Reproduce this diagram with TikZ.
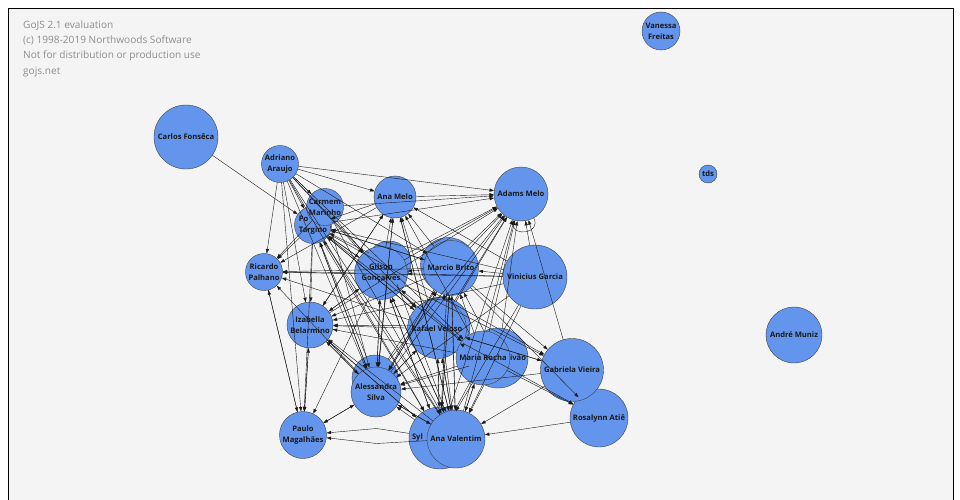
\documentclass[tikz,border=0pt]{standalone}
\usepackage{fontspec}
\setmainfont{Open Sans}
\usetikzlibrary{arrows.meta,calc}
\definecolor{canvas}{HTML}{F4F4F4}
\definecolor{nodeblue}{HTML}{6495ED}
\definecolor{markgray}{HTML}{8E8E8E}
\tikzset{
  person/.style={circle, draw=black!75, line width=0.4pt, fill=nodeblue,
    minimum size=#1pt, inner sep=-4pt, align=center,
    font=\bfseries\fontsize{7.6}{11}\selectfont, text=black!90},
  link/.style={draw=black!90, line width=0.4pt,
    -{Triangle[length=4.5pt,width=3.2pt]}},
}
\begin{document}
\begin{tikzpicture}[x=1pt,y=-1pt]
        \useasboundingbox (0,0) rectangle (960,500);
        \clip (0,0) rectangle (960,500);
        % Canvas and frame
        \fill[white] (0,0) rectangle (960,500);
        \draw[fill=canvas, line width=1pt] (8.5,8.5) rectangle (953.5,520);
        % Watermark
        \node[anchor=north west, align=left, text=markgray, inner sep=0pt,
          font=\fontsize{10.1}{15.3}\selectfont] (watermark) at (23,20.5)
          {GoJS 2.1 evaluation\\(c) 1998-2019 Northwoods Software\\Not for distribution or production use\\gojs.net};
        % People
        \node[person=64] (cf) at (186,137) {Carlos Fonsêca};
        \node[person=37] (aa) at (280,164) {Adriano\\Araujo};
        \node[person=37, align=left] (pt) at (313,225) {Po\\Targino};
        \node[person=37] (cm) at (325,207) {Carmem\\Marinho};
        \node[person=42] (ame) at (395,197) {Ana Melo};
        \node[person=54] (adm) at (521,194) {Adams Melo};
        \node[person=37] (rp) at (264,272) {Ricardo\\Palhano};
        \node[person=44] (gh) at (389,263) {};
        \node[person=53] (gg) at (381,273) {Gilson\\Gonçalves};
        \node[person=55] (mh) at (448,265) {};
        \node[person=55] (mb) at (451,268) {Marcio Brito};
        \node[person=64] (vg) at (535,277) {Vinicius Garcia};
        \node[person=46] (ib) at (310,325) {Izabella\\Belarmino};
        \node[person=58] (rh) at (441,326) {};
        \node[person=59] (rv) at (437,329) {Rafael Veloso};
        \node[person=60] (iv) at (498,358) {\makebox[56pt][r]{ivão}};
        \node[person=54] (mr) at (483,358) {Maria Rocha};
        \node[person=58] (ra) at (599,418) {Rosalynn Atiê};
        \node[person=63] (gv) at (572,370) {Gabriela Vieira};
        \node[person=46] (ah) at (375,378) {};
        \node[person=50] (as) at (376,392) {Alessandra\\Silva};
        \node[person=47] (pm) at (303,435) {Paulo\\Magalhães};
        \node[person=62] (sy) at (440,438) {\makebox[56pt][l]{Syl}};
        \node[person=58] (av) at (456,439) {Ana Valentim};
        \node[person=38] (vf) at (661,31) {Vanessa\\Freitas};
        \node[person=18] (tds) at (708,174) {tds};
        \node[person=56] (am) at (794,335) {André Muniz};
        % Links
        \foreach \s/\t in {cf/pt,
            aa/adm, aa/ame, aa/rp, aa/pm, aa/ib, aa/pt, aa/cm, aa/gg, aa/mb, aa/rv, aa/as, aa/sy, aa/mr, aa/av,
            ame/pt, ame/adm, ame/rp, ame/ib, ame/as, ame/av,
            pt/adm, pt/rp, pt/ib, pt/as, pt/gg, pt/mb, pt/rv, pt/sy, pt/gv, pt/pm, pt/mr,
            cm/adm, cm/rp, cm/as, cm/gg, cm/av,
            vg/adm, vg/rp, vg/pt, vg/ame, vg/ib, vg/as, vg/av, vg/gg, vg/mb, vg/sy,
            gg/ame, gg/adm, gg/rp, gg/ib, gg/as, gg/av, gg/sy, gg/pt, gg/pm, gg/rv, gg/gv,
            gh/adm, gh/pt, gh/as, gh/av,
            mb/ame, mb/adm, mb/rp, mb/ib, mb/as, mb/av, mb/sy, mb/pt, mb/gg, mb/gv, mb/ra, mb/rv,
            mh/adm, mh/as, mh/sy,
            rv/ame, rv/adm, rv/rp, rv/ib, rv/as, rv/av, rv/sy, rv/pt, rv/mb, rv/gv, rv/ra, rv/mr,
            rh/adm, rh/ib, rh/av,
            mr/adm, mr/ame, mr/as, mr/av, mr/sy, mr/gg, mr/mb, mr/ib, mr/ra,
            iv/adm, iv/as, iv/av, iv/mb,
            gv/as, gv/av, gv/adm, gv/rv,
            ra/av,
            as/ame, as/adm, as/rp, as/ib, as/pm, as/pt, as/gg, as/mb, as/rv, as/av,
            ah/adm, ah/pt, ah/mb,
            ib/pm, ib/adm, ib/ame, ib/gg, ib/as, ib/sy,
            pm/ib, pm/rp, pm/as, rp/pm,
            av/ame, av/adm, av/ib, av/pt, av/gg, av/mb, av/rv, av/as, av/mr,
            sy/adm, sy/ib, sy/gg, sy/mb, sy/as, sy/rv}
            \draw[link] (\s) -- (\t);
        % Bent links to Paulo
        \draw[link] (sy) -- ($(sy)!.5!(pm)+(5,-8)$) -- (pm);
        \draw[link] (av) -- ($(sy)!.5!(pm)+(5,7)$) -- (pm);
        % Self loop
        \draw[link] (adm.-62) .. controls +(8,16) and +(-2,16) .. (adm.-105);
\end{tikzpicture}
\end{document}
